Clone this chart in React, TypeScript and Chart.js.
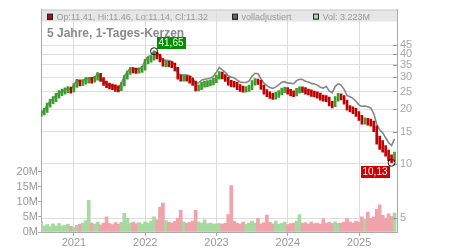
import React, { useEffect, useRef } from "react";
import { Chart, registerables } from "chart.js";
Chart.register(...registerables);

// ---- data (semi-monthly samples, starting mid-July 2020) ----
const START_YEAR = 2020.54;
const STEP_YEARS = 1 / 24;
const X_MIN = 2020.537;
const X_MAX = 2025.533;

const closes = [
  19.0, 19.6, 21.0, 22.0, 22.6, 23.6, 24.4, 24.9, 25.3, 25.6,
  25.4, 26.8, 28.3, 27.7, 28.0, 28.7, 28.9, 28.8, 29.3, 30.8,
  29.2, 27.8, 27.0, 26.6, 26.5, 25.9, 25.8, 27.2, 29.8, 31.5,
  32.9, 32.6, 32.5, 32.6, 33.2, 36.5, 37.2, 37.8, 40.0, 39.2,
  37.5, 35.5, 35.5, 35.4, 35.0, 33.5, 30.0, 29.5, 29.6, 29.5,
  28.8, 28.0, 26.0, 26.3, 27.2, 27.5, 27.7, 28.0, 28.6, 29.8,
  31.2, 30.2, 29.3, 28.0, 27.5, 27.3, 26.5, 25.9, 25.7, 25.7,
  26.2, 27.8, 28.4, 28.2, 26.5, 25.0, 24.2, 23.7, 23.4, 23.9,
  24.5, 25.3, 25.5, 25.0, 24.4, 24.2, 25.2, 25.6, 25.5, 25.0,
  24.7, 24.3, 24.1, 23.8, 23.2, 22.9, 22.8, 21.5, 21.0, 22.7,
  23.6, 23.2, 22.0, 20.3, 20.0, 19.6, 18.9, 18.0, 17.1, 17.2,
  17.0, 16.8, 15.6, 13.6, 12.7, 12.2, 11.5, 10.8, 10.4, 11.3,
];
const firstOpen = 18.6;

const highs = [
  19.6, 20.2, 21.6, 22.7, 23.4, 24.4, 25.3, 25.8, 26.2, 26.6,
  26.4, 27.6, 29.2, 29.0, 29.1, 29.8, 29.9, 29.9, 30.3, 31.8,
  31.5, 29.8, 28.5, 27.8, 27.5, 27.2, 26.9, 28.0, 30.6, 32.4,
  33.9, 33.9, 33.6, 33.7, 34.4, 37.6, 38.5, 39.2, 41.65, 41.0,
  40.0, 38.0, 36.8, 36.7, 36.5, 35.8, 34.0, 30.8, 30.6, 30.6,
  30.3, 29.5, 28.5, 27.2, 28.1, 28.5, 28.7, 29.0, 29.6, 30.8,
  32.2, 32.0, 31.0, 29.9, 28.8, 28.4, 28.1, 27.3, 26.8, 26.6,
  27.1, 28.7, 29.4, 29.3, 28.8, 27.1, 25.6, 24.9, 24.4, 24.7,
  25.3, 26.1, 26.4, 26.3, 25.7, 25.2, 26.0, 26.5, 26.5, 26.3,
  25.8, 25.5, 25.1, 24.9, 24.5, 23.9, 23.7, 23.3, 22.1, 23.4,
  24.4, 24.3, 23.7, 22.4, 20.9, 20.6, 20.2, 19.4, 18.5, 17.9,
  17.8, 17.6, 17.2, 16.2, 14.2, 13.4, 12.6, 11.9, 11.2, 11.6,
];

const lows = [
  18.2, 18.6, 19.2, 20.5, 21.4, 22.0, 23.0, 23.7, 24.2, 24.6,
  24.5, 24.9, 26.3, 26.8, 26.9, 27.4, 27.8, 27.8, 28.1, 28.9,
  28.4, 27.0, 26.2, 25.8, 25.6, 25.0, 24.9, 25.3, 26.8, 29.2,
  31.0, 31.6, 31.4, 31.5, 31.8, 32.8, 35.6, 36.2, 37.2, 37.8,
  36.4, 34.5, 34.2, 34.2, 33.8, 32.4, 29.2, 28.5, 28.5, 28.5,
  27.8, 27.0, 25.2, 25.2, 25.6, 26.4, 26.6, 26.8, 27.2, 28.0,
  29.2, 29.3, 28.4, 27.1, 26.6, 26.4, 25.6, 25.0, 24.8, 24.8,
  25.0, 25.6, 27.1, 27.3, 25.7, 24.2, 23.4, 22.9, 22.6, 22.7,
  23.2, 23.9, 24.6, 24.2, 23.6, 23.4, 23.6, 24.5, 24.7, 24.2,
  23.9, 23.5, 23.3, 23.0, 22.4, 22.1, 22.0, 20.8, 20.3, 20.6,
  22.1, 22.5, 21.3, 19.7, 19.3, 18.9, 18.2, 17.3, 16.5, 16.5,
  16.3, 16.1, 15.0, 12.8, 12.0, 11.6, 11.0, 10.4, 10.13, 10.3,
];

const adjusted = [
  19.0, 19.6, 21.0, 22.1, 22.8, 23.8, 24.6, 25.1, 25.6, 25.9,
  25.7, 27.2, 28.9, 28.3, 28.6, 29.3, 29.5, 29.4, 29.9, 31.4,
  29.8, 28.4, 27.5, 27.1, 27.0, 26.4, 26.3, 27.7, 30.4, 32.1,
  33.6, 33.3, 33.2, 33.3, 33.9, 37.2, 38.9, 39.5, 41.8, 41.0,
  39.2, 37.1, 37.1, 37.0, 36.6, 35.0, 31.4, 30.8, 30.9, 30.8,
  30.5, 29.7, 27.6, 27.9, 28.8, 29.2, 29.4, 29.7, 30.3, 31.9,
  33.9, 32.9, 31.9, 30.5, 30.0, 29.8, 28.9, 28.2, 28.0, 28.0,
  28.6, 30.3, 31.5, 31.3, 29.4, 27.8, 26.9, 26.3, 26.0, 26.5,
  27.2, 28.1, 28.3, 27.8, 27.8, 27.6, 28.7, 29.2, 29.1, 28.5,
  28.2, 27.7, 27.5, 27.1, 26.4, 26.1, 26.7, 25.2, 24.6, 26.6,
  27.6, 27.1, 25.7, 23.8, 23.4, 22.9, 22.1, 21.1, 20.7, 20.8,
  20.6, 20.3, 18.9, 16.5, 15.4, 14.8, 13.9, 13.1, 12.6, 13.7,
];

const volumesM = [
  3.5, 2.0, 2.5, 1.8, 2.7, 2.0, 2.8, 2.0, 2.2, 2.6,
  1.9, 1.5, 2.2, 2.6, 3.0, 3.8, 10.5, 3.0, 2.6, 3.3,
  2.4, 3.0, 5.0, 2.8, 2.5, 3.1, 2.6, 3.2, 6.2, 4.5,
  3.0, 3.3, 2.8, 3.1, 2.6, 3.4, 3.0, 3.6, 5.0, 4.0,
  8.3, 9.6, 3.8, 3.2, 3.0, 3.5, 4.6, 7.2, 3.4, 3.0,
  3.1, 3.6, 7.2, 3.4, 3.0, 4.0, 2.8, 3.0, 2.6, 2.7,
  2.8, 2.6, 3.0, 5.8, 15.4, 3.5, 3.0, 2.6, 3.3, 2.6,
  3.0, 3.6, 3.0, 4.5, 2.7, 3.1, 5.6, 3.2, 2.7, 3.6,
  2.6, 2.9, 3.3, 2.5, 2.8, 3.0, 3.6, 5.8, 3.0, 3.1,
  2.6, 3.3, 2.8, 3.0, 2.6, 4.3, 2.9, 3.2, 2.8, 3.4,
  2.9, 3.0, 3.3, 4.5, 3.4, 3.0, 3.6, 3.3, 5.0, 4.2,
  6.6, 4.5, 5.0, 7.5, 9.0, 5.5, 4.6, 6.0, 5.2, 6.3,
];

const yearTicks = [2021, 2022, 2023, 2024, 2025];
const priceTicks = [5, 10, 15, 20, 25, 30, 35, 40, 45];
const volumeTicks = [0, 5, 10, 15, 20];

const headerOHLC = "Op:11.41, Hi:11.46, Lo:11.14, Cl:11.32";
const headerAdj = "volladjustiert";
const headerVol = "Vol: 3.223M";
const chartTitle = "5 Jahre, 1-Tages-Kerzen";

// ---- styling ----
const FONT = "'Liberation Sans', Arial, sans-serif";
const UP = "#3a9e2a";
const DOWN = "#c00000";
const VOL_UP = "#a6d9a0";
const VOL_DOWN = "#f0a3ab";

const times = closes.map((_, i) => START_YEAR + i * STEP_YEARS);
const opens = closes.map((_, i) => (i === 0 ? firstOpen : closes[i - 1]));
const isUp = closes.map((c, i) => c >= opens[i]);

const fmtDe = (v: number) => v.toFixed(2).replace(".", ",");

const overlayPlugin = {
  id: "overlay",
  beforeDraw(chart: any) {
    const { ctx, chartArea: a } = chart;
    ctx.save();
    ctx.fillStyle = "#e6e6e6";
    ctx.fillRect(a.left, a.top, a.right - a.left, 12);
    ctx.restore();
  },
  afterDraw(chart: any) {
    const { ctx, chartArea: a, scales } = chart;
    ctx.save();
    ctx.strokeStyle = "#c8c8c8";
    ctx.lineWidth = 1;
    ctx.beginPath();
    ctx.moveTo(a.left, a.top + 0.5);
    ctx.lineTo(a.right, a.top + 0.5);
    ctx.stroke();

    ctx.strokeStyle = "#999";
    for (const v of priceTicks) {
      const y = Math.round(scales.yPrice.getPixelForValue(v)) + 0.5;
      ctx.beginPath();
      ctx.moveTo(a.right - 4, y);
      ctx.lineTo(a.right, y);
      ctx.stroke();
    }

    const items = [
      { fill: "#b01010", text: headerOHLC, dx: 6 },
      { fill: "#666666", text: headerAdj, dx: 191 },
      { fill: "#aadba6", text: headerVol, dx: 272 },
    ];
    ctx.font = `9px ${FONT}`;
    ctx.textBaseline = "middle";
    ctx.textAlign = "left";
    for (const it of items) {
      const sx = a.left + it.dx;
      ctx.fillStyle = it.fill;
      ctx.fillRect(sx, a.top + 4.5, 6, 6);
      ctx.strokeStyle = "#222";
      ctx.strokeRect(sx + 0.5, a.top + 4.5, 5, 5);
      ctx.fillStyle = "#999";
      ctx.fillText(it.text, sx + 9.5, a.top + 7.5);
    }

    ctx.font = `bold 12px ${FONT}`;
    ctx.fillStyle = "#8a8a8a";
    ctx.fillText(chartTitle, a.left + 6, a.top + 24);

    const xs = scales.x;
    const ys = scales.yPrice;
    const hiMax = Math.max(...highs);
    const loMin = Math.min(...lows);
    const iMax = highs.indexOf(hiMax);
    const iMin = lows.indexOf(loMin);

    const drawCircle = (cx: number, cy: number) => {
      ctx.strokeStyle = "#111";
      ctx.lineWidth = 1;
      ctx.beginPath();
      ctx.arc(cx, cy, 3.5, 0, Math.PI * 2);
      ctx.stroke();
    };
    const drawBox = (x: number, y: number, text: string, color: string) => {
      ctx.font = `10px ${FONT}`;
      const w = Math.ceil(ctx.measureText(text).width) + 3;
      ctx.fillStyle = color;
      ctx.fillRect(x, y, w, 12);
      ctx.fillStyle = "#fff";
      ctx.textBaseline = "middle";
      ctx.fillText(text, x + 1.5, y + 6.5);
      return w;
    };

    const mx = xs.getPixelForValue(times[iMax]);
    const my = ys.getPixelForValue(hiMax);
    drawCircle(mx, my);
    drawBox(Math.round(mx + 3), Math.round(my - 14), fmtDe(hiMax), "#009000");

    const nx = xs.getPixelForValue(times[iMin]);
    const ny = ys.getPixelForValue(loMin);
    drawCircle(nx, ny);
    ctx.font = `10px ${FONT}`;
    const tw = Math.ceil(ctx.measureText(fmtDe(loMin)).width) + 3;
    drawBox(Math.round(nx - 2 - tw), Math.round(ny + 3), fmtDe(loMin), "#d00000");

    ctx.restore();
  },
};

export default function App() {
  const ref = useRef<HTMLCanvasElement>(null);

  useEffect(() => {
    if (!ref.current) return;
    const chart = new Chart(ref.current, {
      type: "bar",
      data: {
        datasets: [
          {
            type: "bar",
            label: "Kerzen",
            data: times.map((t, i) => ({ x: t, y: [lows[i], highs[i]] })) as any,
            backgroundColor: isUp.map((u) => (u ? UP : DOWN)),
            barThickness: 2,
            grouped: false,
            yAxisID: "yPrice",
            order: 0,
          } as any,
          {
            type: "line",
            label: "volladjustiert",
            data: times.map((t, i) => ({ x: t, y: adjusted[i] })),
            borderColor: "#868686",
            borderWidth: 1.6,
            pointRadius: 0,
            tension: 0,
            yAxisID: "yPrice",
            order: 1,
          } as any,
          {
            type: "bar",
            label: "Vol",
            data: times.map((t, i) => ({ x: t, y: volumesM[i] })),
            backgroundColor: isUp.map((u) => (u ? VOL_UP : VOL_DOWN)),
            barThickness: 3,
            grouped: false,
            yAxisID: "yVol",
            order: 2,
          } as any,
        ],
      },
      options: {
        animation: false,
        responsive: false,
        maintainAspectRatio: false,
        layout: { padding: { top: 7, left: 0, right: 0, bottom: 0 } },
        plugins: {
          legend: { display: false },
          tooltip: { enabled: false },
          title: { display: false },
        },
        scales: {
          x: {
            type: "linear",
            min: X_MIN,
            max: X_MAX,
            offset: false,
            afterBuildTicks: (s: any) => {
              s.ticks = yearTicks.map((v) => ({ value: v }));
            },
            afterFit: (s: any) => {
              s.height = 18;
            },
            ticks: {
              callback: (v: any) => String(v),
              color: "#999",
              font: { size: 11, family: FONT },
              padding: 0,
              maxRotation: 0,
              autoSkip: false,
            },
            grid: { color: "#dddddd", tickLength: 4, tickColor: "#aaa", offset: false },
            border: { color: "#aaa" },
          },
          yVol: {
            type: "linear",
            position: "left",
            min: 0,
            max: 73.8,
            afterBuildTicks: (s: any) => {
              s.ticks = volumeTicks.map((v) => ({ value: v }));
            },
            afterFit: (s: any) => {
              s.width = 41;
            },
            ticks: {
              callback: (v: any) => `${v}M`,
              color: "#999",
              font: { size: 11, family: FONT },
              padding: 0,
            },
            grid: { drawOnChartArea: false, tickLength: 3, tickColor: "#aaa" },
            border: { color: "#aaa" },
          },
          yPrice: {
            type: "logarithmic",
            position: "right",
            min: 4.21,
            max: 70.6,
            afterBuildTicks: (s: any) => {
              s.ticks = priceTicks.map((v) => ({ value: v }));
            },
            afterFit: (s: any) => {
              s.width = 53;
            },
            ticks: {
              callback: (v: any) => String(v),
              color: "#a8a8a8",
              font: { size: 11, family: FONT },
              padding: 3,
            },
            grid: { color: "#dddddd", drawTicks: false },
            border: { color: "#aaa" },
          },
        } as any,
      },
      plugins: [overlayPlugin],
    });
    return () => chart.destroy();
  }, []);

  return (
    <div style={{ position: "absolute", left: 0, top: 0, width: 450, height: 250, background: "#fff" }}>
      <canvas ref={ref} width={450} height={250} style={{ width: 450, height: 250 }} />
    </div>
  );
}
